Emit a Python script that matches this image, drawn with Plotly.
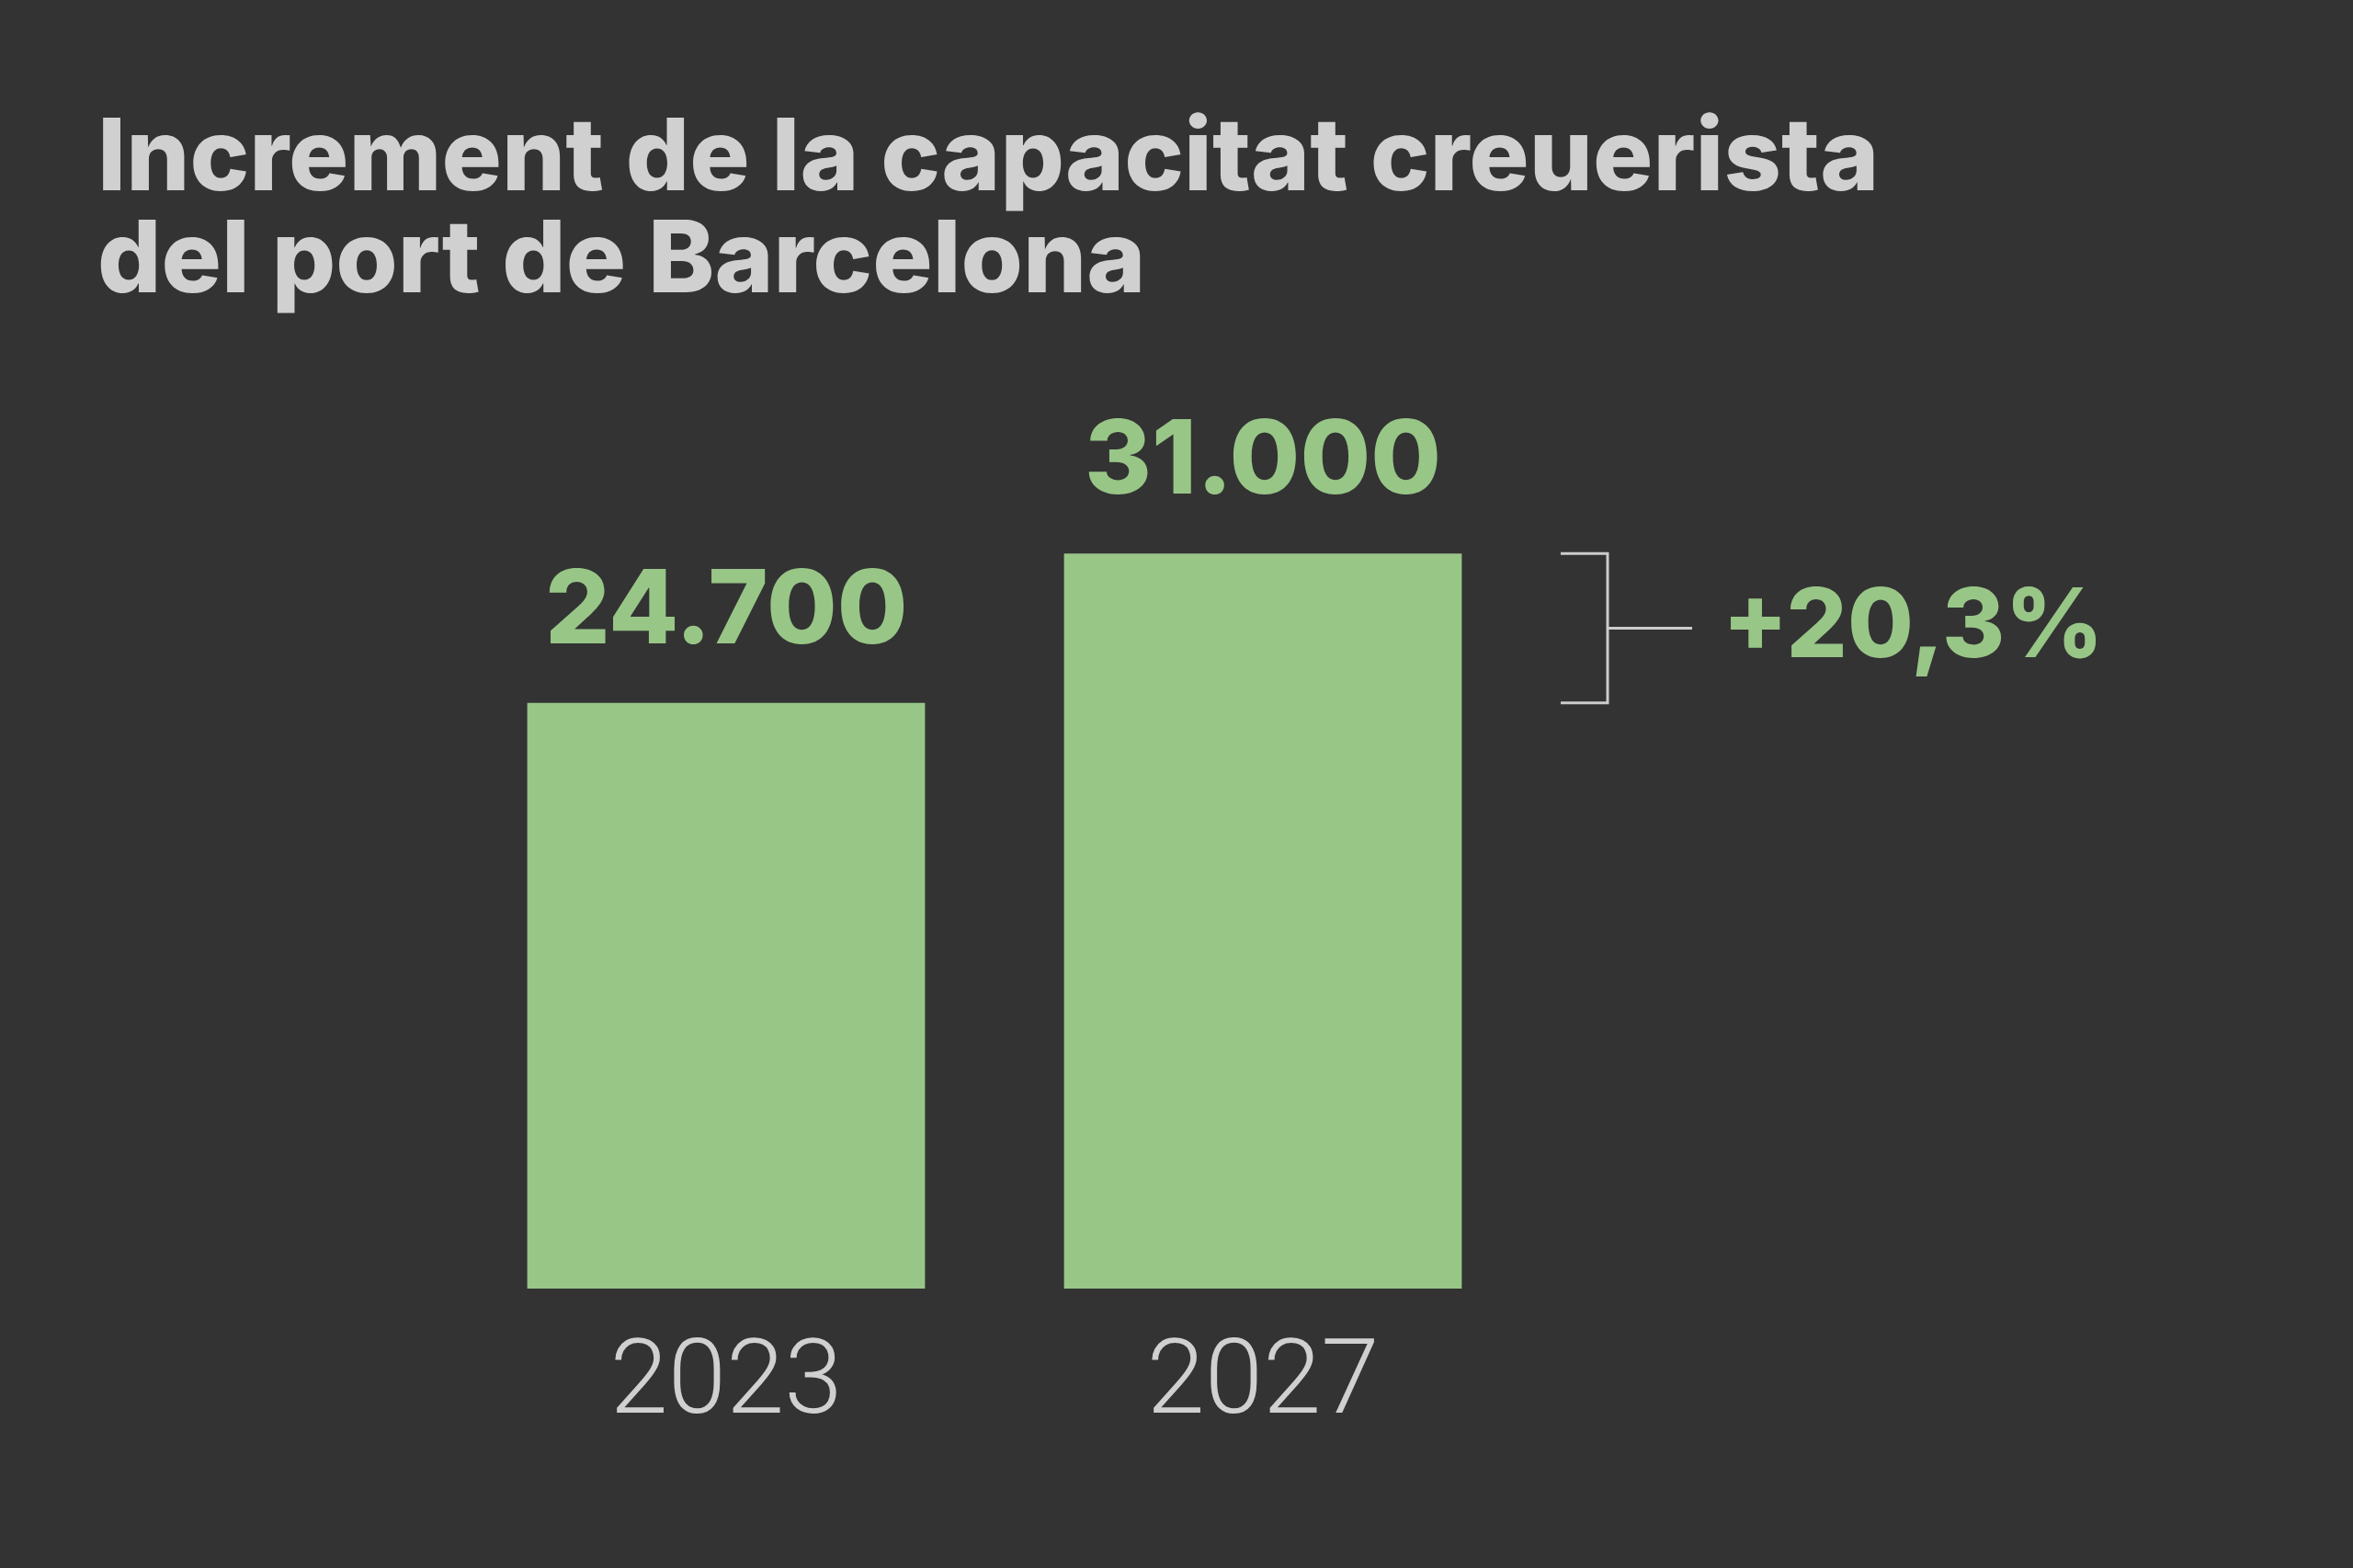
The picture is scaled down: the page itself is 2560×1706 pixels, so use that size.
import plotly.graph_objects as go

# data
years = ["2023", "2027"]
capacity = [24700, 31000]
change_label = "+20,3%"
title_lines = ["Increment de la capacitat creuerista", "del port de Barcelona"]

BG = "#333333"
GREEN = "#98c687"
GREY = "#d0d0d0"
W, H = 2560, 1706
L, R, T, B = 498, 894, 370, 304
PW = W - L - R


def px_x(px):
    # pixel column -> paper x
    return (px - L) / PW


fig = go.Figure(go.Bar(
    x=years, y=capacity, marker=dict(color=GREEN, line=dict(width=0)),
    hoverinfo="skip",
))

# value labels above the bars (category index, since the names look numeric)
for i, v in enumerate(capacity):
    fig.add_annotation(x=i, y=v, xref="x", yref="y", yanchor="bottom",
                       text=f"{v:,}".replace(",", "."), showarrow=False, yshift=36,
                       font=dict(family="Inter", size=111, color=GREEN, weight=800))

# bracket between the two bar tops
lo, hi = min(capacity), max(capacity)
mid = (lo + hi) / 2
x0, xv, x1 = px_x(1698), px_x(1749), px_x(1841)
fig.add_shape(type="path", xref="paper", yref="y",
              path=f"M {x0},{hi} L {xv},{hi} L {xv},{lo} L {x0},{lo} M {xv},{mid} L {x1},{mid}",
              line=dict(color="#cccccc", width=3))
fig.add_annotation(x=px_x(1872), y=mid, xref="paper", yref="y", xanchor="left", yanchor="middle",
                   text=change_label, showarrow=False, yshift=6,
                   font=dict(family="Inter", size=104, color=GREEN, weight=800))

# title: line spacing comes from the base size (85 * 1.3 ~ 110px), glyphs drawn at 109px
title_html = "<br>".join(f'<span style="font-size:109px">{t}</span>' for t in title_lines)
fig.add_annotation(x=px_x(104), y=1, xref="paper", yref="paper", xanchor="left", yanchor="bottom",
                   align="left", text=title_html, showarrow=False, yshift=24,
                   font=dict(family="Inter", size=85, color=GREY, weight=800))

fig.update_layout(
    width=W, height=H, margin=dict(l=L, r=R, t=T, b=B),
    paper_bgcolor=BG, plot_bgcolor=BG, showlegend=False, bargap=0.259,
    xaxis=dict(type="category", range=[-0.5, 1.5], showgrid=False, zeroline=False, showline=False,
               ticks="", ticklabelstandoff=20,
               tickfont=dict(family="Roboto", size=114, color=GREY, weight=300)),
    yaxis=dict(range=[0, 40000], visible=False),
)

fig.write_html("out.html", config={"displayModeBar": False},
               post_script="document.body.style.margin='0';")
